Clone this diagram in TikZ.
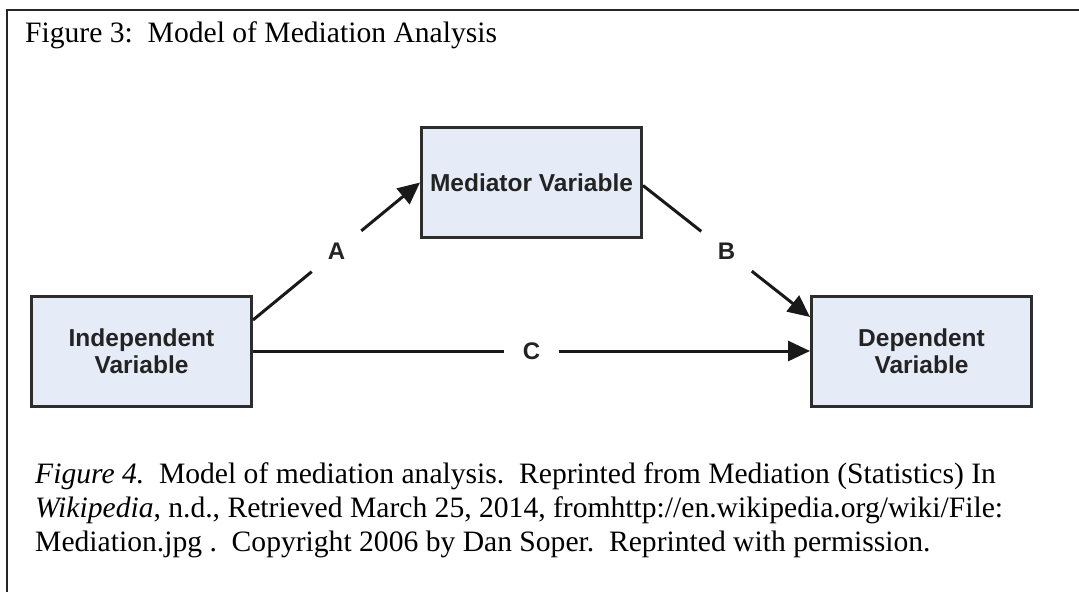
\documentclass[tikz,border=0pt]{standalone}
\usepackage{fontspec}
\setmainfont{Liberation Serif}
\newfontfamily\arialfont{Liberation Sans}
\usetikzlibrary{arrows.meta}
\definecolor{boxfill}{RGB}{230,236,247}
\definecolor{boxline}{RGB}{45,45,45}
\definecolor{txtgray}{RGB}{35,35,35}
\tikzset{
  varbox/.style={draw=boxline, line width=3pt, fill=boxfill, minimum width=220pt, minimum height=110pt, inner sep=0pt, align=center, text=txtgray, font=\arialfont\bfseries\fontsize{24.5}{27}\selectfont},
  conn/.style={line width=3pt, draw=black!90, -{Triangle[length=22pt,width=20pt]}},
  lbl/.style={circle, fill=white, inner sep=0pt, text=txtgray, font=\arialfont\bfseries\fontsize{24}{24}\selectfont},
  captxt/.style={anchor=base west, inner sep=0pt, font=\fontsize{29.6}{34}\selectfont},
}
\begin{document}
\begin{tikzpicture}[x=1pt,y=-1pt]
\useasboundingbox (0,0) rectangle (1079,592);
\draw[line width=2pt, black!85] (1079,10) -- (7,10) -- (7,592);
\node[captxt] (title) at (25,42) {Figure 3:\ \ Model of Mediation Analysis};
\node[varbox] (med) at (531.5,182.5) {Mediator Variable};
\node[varbox] (ind) at (141.5,351) {Independent\\Variable};
\node[varbox] (dep) at (921.5,351) {Dependent\\Variable};
\draw[conn] ([yshift=31pt]ind.east) -- node[lbl, minimum size=64pt] (la) {A} (med.west);
\draw[conn] ([yshift=-3pt]med.east) -- node[lbl, minimum size=64pt] (lb) {B} ([yshift=34pt]dep.west);
\draw[conn] (ind.east) -- node[lbl, minimum size=55pt, pos=0.5] (lc) {C} (dep.west);
\node[captxt] (cap1) at (35,483) {\textit{Figure 4.}\ \ Model of mediation analysis.\ \ Reprinted from Mediation (Statistics) In};
\node[captxt] (cap2) at (35,517) {\textit{Wikipedia}, n.d., Retrieved March 25, 2014, fromhttp://en.wikipedia.org/wiki/File:};
\node[captxt] (cap3) at (35,551) {Mediation.jpg .\ \ Copyright 2006 by Dan Soper.\ \ Reprinted with permission.};
\end{tikzpicture}
\end{document}
